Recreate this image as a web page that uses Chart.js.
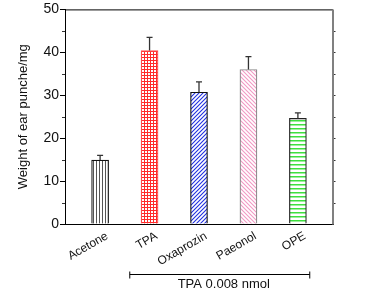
<!DOCTYPE html>
<html>
<head>
<meta charset="utf-8">
<script src="https://cdn.jsdelivr.net/npm/chart.js@4.4.0/dist/chart.umd.min.js"></script>
<style>
  html, body { margin: 0; padding: 0; background: #fff; }
  #wrap { width: 371px; height: 301px; }
</style>
</head>
<body>
<div id="wrap"><canvas id="c" width="371" height="301"></canvas></div>
<script>
// Данные с картинки
const categories = ['Acetone', 'TPA', 'Oxaprozin', 'Paeonol', 'OPE'];
const means = [14.9, 40.4, 30.7, 36.0, 24.6];
const errors = [1.1, 3.1, 2.4, 3.0, 1.3];
const yTicks = [0, 10, 20, 30, 40, 50];
const yMinorTicks = [5, 15, 25, 35, 45];
const groupLabel = 'TPA 0.008 nmol';
const groupRange = [0.6, 4.24]; // TPA ... OPE

const FONT = "'Liberation Sans', Arial, sans-serif";

// Штриховки
function makePattern(w, h, draw) {
    const cv = document.createElement('canvas');
    cv.width = w;
    cv.height = h;
    const g = cv.getContext('2d');
    g.fillStyle = '#fff';
    g.fillRect(0, 0, w, h);
    draw(g, w, h);
    return document.getElementById('c').getContext('2d').createPattern(cv, 'repeat');
}

const patVertical = makePattern(3, 3, (g) => {
    g.fillStyle = '#555';
    g.fillRect(0, 0, 1, 3);
});
const patGrid = makePattern(3, 3, (g) => {
    g.fillStyle = '#ff2a2a';
    g.fillRect(0, 0, 3, 1);
    g.fillRect(0, 0, 1, 3);
});
function diag(color, s, forward, lw) {
    return makePattern(s, s, (g) => {
        g.strokeStyle = color;
        g.lineWidth = lw;
        g.beginPath();
        if (forward) {
            g.moveTo(0, s); g.lineTo(s, 0);
            g.moveTo(-1, 1); g.lineTo(1, -1);
            g.moveTo(s - 1, s + 1); g.lineTo(s + 1, s - 1);
        } else {
            g.moveTo(0, 0); g.lineTo(s, s);
            g.moveTo(-1, s - 1); g.lineTo(1, s + 1);
            g.moveTo(s - 1, -1); g.lineTo(s + 1, 1);
        }
        g.stroke();
    });
}
const patBlue = diag('#2030e0', 4, true, 1.1);
const patPink = diag('#f29ac4', 4, false, 1.1);
const patGreen = makePattern(4, 4, (g) => {
    g.fillStyle = '#3ee03e';
    g.fillRect(0, 0, 4, 1.5);
});

const fills = [patVertical, patGrid, patBlue, patPink, patGreen];
const borders = ['#111', '#ff5050', '#111', '#888', '#222'];

// Рамка, малые деления, планки погрешностей и скобка группы
const extrasPlugin = {
    id: 'extras',
    afterDatasetsDraw(chart) {
        const ctx = chart.ctx;
        const x = chart.scales.x;
        const y = chart.scales.y;
        const a = chart.chartArea;
        ctx.save();

        // error bars
        ctx.strokeStyle = '#333';
        ctx.lineWidth = 1.3;
        means.forEach((m, i) => {
            const px = x.getPixelForValue(i);
            const top = y.getPixelForValue(m + errors[i]);
            const base = y.getPixelForValue(m);
            ctx.beginPath();
            ctx.moveTo(px, base);
            ctx.lineTo(px, top);
            ctx.moveTo(px - 3, top);
            ctx.lineTo(px + 3, top);
            ctx.stroke();
        });

        // top border
        ctx.strokeStyle = '#000';
        ctx.lineWidth = 1;
        ctx.beginPath();
        ctx.moveTo(a.left, a.top + 0.5);
        ctx.lineTo(a.right, a.top + 0.5);
        ctx.stroke();

        // right border (серый)
        ctx.strokeStyle = '#808080';
        ctx.lineWidth = 2;
        ctx.beginPath();
        ctx.moveTo(a.right, a.top);
        ctx.lineTo(a.right, a.bottom + 0.5);
        ctx.stroke();

        // minor ticks
        ctx.strokeStyle = '#333';
        ctx.lineWidth = 1;
        yMinorTicks.forEach(v => {
            const py = Math.round(y.getPixelForValue(v)) + 0.5;
            ctx.beginPath();
            ctx.moveTo(a.left - 3, py);
            ctx.lineTo(a.left, py);
            ctx.stroke();
        });
        yMinorTicks.concat(yTicks.slice(1, -1)).forEach(v => {
            const py = Math.round(y.getPixelForValue(v)) + 0.5;
            ctx.beginPath();
            ctx.moveTo(a.right + 1, py);
            ctx.lineTo(a.right + 2.5, py);
            ctx.stroke();
        });

        // group bracket
        const x0 = x.getPixelForValue(groupRange[0]);
        const x1 = x.getPixelForValue(groupRange[1]);
        const by = a.bottom + 50.5;
        ctx.strokeStyle = '#000';
        ctx.beginPath();
        ctx.moveTo(x0, by);
        ctx.lineTo(x1, by);
        ctx.moveTo(x0, by - 3);
        ctx.lineTo(x0, by + 4);
        ctx.moveTo(x1, by - 3);
        ctx.lineTo(x1, by + 4);
        ctx.stroke();
        ctx.fillStyle = '#111';
        ctx.font = '13px ' + FONT;
        ctx.textAlign = 'center';
        ctx.textBaseline = 'middle';
        ctx.fillText(groupLabel, (x0 + x1) / 2 + 4, by + 10);

        ctx.restore();
    }
};

new Chart(document.getElementById('c'), {
    type: 'bar',
    data: {
        datasets: [{
            data: means.map((v, i) => ({ x: i, y: v })),
            backgroundColor: fills,
            borderColor: borders,
            borderWidth: 1.2,
            borderSkipped: 'bottom',
            barThickness: 17
        }]
    },
    options: {
        responsive: false,
        animation: false,
        devicePixelRatio: 1,
        layout: { padding: { left: 0, top: 9, right: 38, bottom: 0 } },
        plugins: {
            legend: { display: false },
            tooltip: { enabled: false }
        },
        scales: {
            x: {
                type: 'linear',
                offset: false,
                min: -0.71,
                max: 4.71,
                afterBuildTicks: (s) => { s.ticks = categories.map((c, i) => ({ value: i })); },
                afterFit: (s) => { s.height = 77; },
                grid: { display: false, drawTicks: false },
                border: { display: true, color: '#000', width: 1 },
                ticks: {
                    autoSkip: false,
                    maxRotation: 30,
                    minRotation: 30,
                    padding: 5,
                    labelOffset: 7,
                    color: '#111',
                    font: { family: FONT, size: 12 },
                    callback: (v) => categories[v]
                }
            },
            y: {
                min: 0,
                max: 50,
                afterBuildTicks: (s) => { s.ticks = yTicks.map(v => ({ value: v })); },
                afterFit: (s) => { s.width = 65; },
                grid: { drawOnChartArea: false, drawTicks: true, tickLength: 5, color: '#000' },
                border: { display: true, color: '#000', width: 1 },
                ticks: {
                    padding: 1,
                    color: '#111',
                    font: { family: FONT, size: 14 }
                },
                title: {
                    display: true,
                    text: 'Weight of ear punche/mg',
                    color: '#111',
                    font: { family: FONT, size: 13 },
                    padding: { top: 16, bottom: 0 }
                }
            }
        }
    },
    plugins: [extrasPlugin]
});
</script>
</body>
</html>
